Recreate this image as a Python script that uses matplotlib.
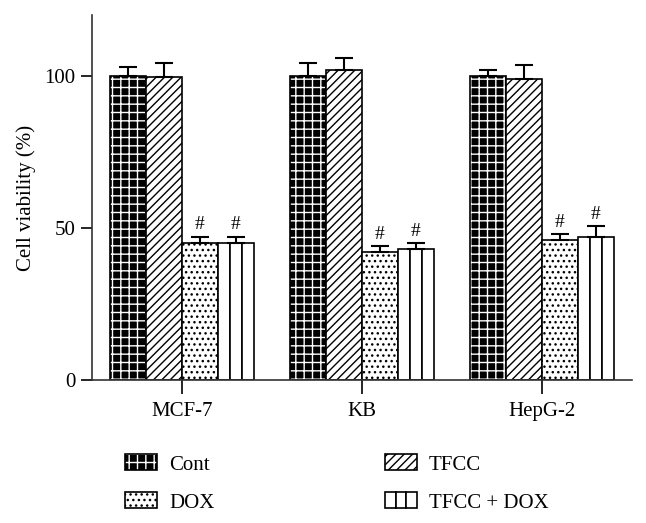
import matplotlib
matplotlib.use("Agg")
import matplotlib.pyplot as plt
import numpy as np
from matplotlib.patches import Patch
from matplotlib.legend_handler import HandlerTuple

plt.rcParams['font.family'] = ['Liberation Serif', 'DejaVu Serif']
plt.rcParams['hatch.linewidth'] = 1.0

cells = ["MCF-7", "KB", "HepG-2"]
groups = ["Cont", "TFCC", "DOX", "TFCC + DOX"]

# values
cont = [100.0, 100.0, 100.0]
tfcc = [99.7, 102.0, 99.1]
dox = [45.2, 42.0, 45.9]
tfcc_dox = [45.0, 43.0, 47.0]

cont_err = [3.0, 4.2, 1.9]
tfcc_err = [4.6, 3.8, 4.5]
dox_err = [2.0, 2.0, 2.2]
tfcc_dox_err = [2.2, 2.2, 3.5]

sig = ["#", "#", "#"]

fig = plt.figure(figsize=(6.46, 5.23), dpi=100)
ax = fig.add_axes([0.142, 0.2734, 0.836, 0.6976])

x = np.arange(len(cells))
w = 0.2
err_kw = dict(ecolor="black", elinewidth=1.5, capthick=1.5)

# Cont : black with white grid, outline on top
ax.bar(x - 1.5*w, cont, w, color="black", edgecolor="white", hatch="++", linewidth=0)
ax.bar(x - 1.5*w, cont, w, fill=False, edgecolor="black", linewidth=1.2,
       yerr=[np.zeros(3), cont_err], capsize=6.5, error_kw=err_kw)

# TFCC
ax.bar(x - 0.5*w, tfcc, w, color="white", edgecolor="black", hatch="////", linewidth=1.2,
       yerr=[np.zeros(3), tfcc_err], capsize=6.5, error_kw=err_kw)

# DOX
ax.bar(x + 0.5*w, dox, w, color="white", edgecolor="black", hatch="...", linewidth=1.2,
       yerr=[np.zeros(3), dox_err], capsize=6.5, error_kw=err_kw)

# TFCC + DOX : split into three strips
for k in range(3):
    ax.bar(x + 1.5*w - w/2 + (k + 0.5)*w/3, tfcc_dox, w/3, color="white",
           edgecolor="black", linewidth=1.2)
ax.errorbar(x + 1.5*w, tfcc_dox, yerr=[np.zeros(3), tfcc_dox_err], fmt="none",
            capsize=6.5, **err_kw)

for i in range(len(cells)):
    ax.text(x[i] + 0.5*w, dox[i] + dox_err[i] + 1.0, sig[i], ha="center", va="bottom", fontsize=14)
    ax.text(x[i] + 1.5*w, tfcc_dox[i] + tfcc_dox_err[i] + 1.0, sig[i], ha="center", va="bottom", fontsize=14)

ax.set_xlim(-0.5, 2.5)
ax.set_ylim(0, 120)
ax.set_yticks([0, 50, 100])
ax.set_xticks(x)
ax.set_xticklabels(cells, fontsize=15)
ax.tick_params(axis="y", labelsize=15, length=8, width=1.2, direction="out")
ax.tick_params(axis="x", length=10, width=1.2, direction="out", pad=6)
ax.set_ylabel("Cell viability (%)", fontsize=15, labelpad=6)
for s in ["top", "right"]:
    ax.spines[s].set_visible(False)
for s in ["left", "bottom"]:
    ax.spines[s].set_linewidth(1.2)
    ax.spines[s].set_color("#333333")

h_cont = (Patch(facecolor="black", edgecolor="white", hatch="++", linewidth=0),
          Patch(fill=False, edgecolor="black", linewidth=1.2))
h_tfcc = Patch(facecolor="white", edgecolor="black", hatch="////", linewidth=1.2)
h_dox = Patch(facecolor="white", edgecolor="black", hatch="...", linewidth=1.2)
h_td = tuple(Patch(facecolor="white", edgecolor="black", linewidth=1.2) for _ in range(3))

handles = [h_cont, h_dox, h_tfcc, h_td]
labels = [groups[0], groups[2], groups[1], groups[3]]
fig.legend(handles, labels, ncol=2, loc="upper left", bbox_to_anchor=(0.165, 0.167),
           frameon=False, fontsize=15, handlelength=1.5, handleheight=0.8,
           handletextpad=0.6, columnspacing=8.2, labelspacing=0.85,
           handler_map={h_cont: HandlerTuple(ndivide=1),
                        h_td: HandlerTuple(ndivide=None, pad=0)})

fig.savefig("out.png", dpi=100)
